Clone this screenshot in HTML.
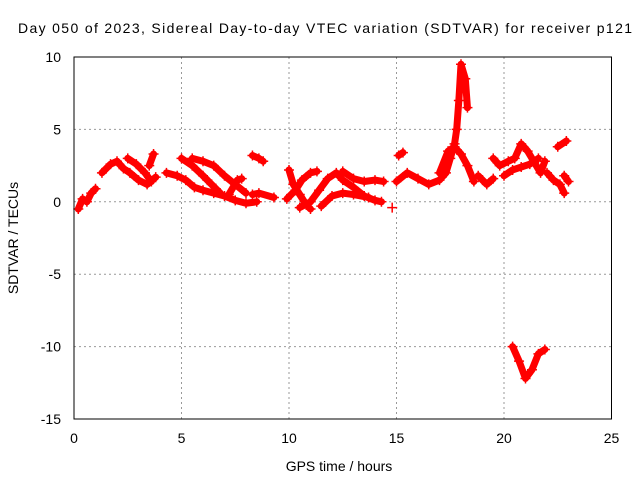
<!DOCTYPE html>
<html><head><meta charset="utf-8"><style>
body{margin:0;background:#fff}
svg{display:block;font-family:"Liberation Sans",sans-serif}
</style></head><body>
<svg id="c" width="640" height="480">
<text x="18" y="33" textLength="614" lengthAdjust="spacing" font-size="14">Day 050 of 2023, Sidereal Day-to-day VTEC variation (SDTVAR) for receiver p121</text>
<text x="339" y="471" text-anchor="middle" font-size="14">GPS time / hours</text>
<text transform="translate(18,238) rotate(-90)" text-anchor="middle" font-size="14">SDTVAR / TECUs</text>
<g id="grid"></g><g id="marks"></g>
<rect x="74" y="57" width="537.5" height="362" fill="none" stroke="#000" stroke-width="1"/>
</svg>
<script>
const xTicks=[0,5,10,15,20,25];
const yTicks=[10,5,0,-5,-10,-15];
const tracks=[
[[0.2,-0.5],[0.4,0.2],[0.6,0],[0.8,0.6],[1.0,0.9]],
[[1.3,2.0],[1.7,2.6],[2.0,2.8],[2.3,2.3],[2.6,2.0],[3.0,1.5],[3.4,1.2],[3.8,1.7]],
[[2.5,3.0],[2.9,2.6],[3.3,2.0],[3.6,1.4]],
[[3.7,3.3],[3.5,2.5]],
[[4.3,2.0],[4.8,1.8],[5.2,1.5],[5.6,1.0],[6.0,0.8],[6.5,0.6],[7.0,0.4],[7.5,0.1],[8.0,-0.1],[8.5,0]],
[[5.0,3.0],[5.5,2.5],[6.0,1.8],[6.4,1.2],[6.8,0.6]],
[[5.5,3.0],[6.0,2.8],[6.5,2.5],[7.0,1.8],[7.5,1.2],[8.0,0.6]],
[[7.2,0.5],[7.6,1.5],[7.8,1.6]],
[[8.3,3.2],[8.6,3.0],[8.8,2.8]],
[[8.3,0.5],[8.6,0.6],[9.3,0.3]],
[[10.0,2.2],[10.2,1.2],[10.5,0.5],[10.8,-0.2],[11.0,-0.5]],
[[9.9,0.2],[10.3,0.8],[10.6,1.5],[11.0,2.0],[11.3,2.1]],
[[10.5,-0.4],[11.0,0],[11.4,0.8],[11.8,1.6],[12.2,2.0],[12.5,1.5],[13.0,1.0],[13.5,0.4],[14.0,0.1],[14.3,0]],
[[11.5,-0.3],[12.0,0.4],[12.5,0.6],[13.0,0.5],[13.7,0.3]],
[[12.5,2.1],[13.0,1.6],[13.5,1.4],[14.0,1.5],[14.4,1.4]],
[[14.8,-0.4]],
[[15.1,3.2],[15.3,3.4]],
[[15.0,1.4],[15.5,2.0],[16.0,1.6],[16.5,1.2],[17.0,1.5],[17.3,2.0],[17.5,3.0],[17.7,4.0],[17.8,5.0],[17.9,7.0],[18.0,9.5],[18.2,8.5],[18.3,6.5]],
[[17.0,2.0],[17.4,3.5],[17.7,3.8],[18.0,3.3],[18.3,2.5],[18.6,1.4]],
[[18.8,1.8],[19.2,1.2],[19.5,1.6]],
[[19.5,3.0],[19.8,2.5],[20.2,2.8],[20.5,3.0],[20.8,4.0],[21.1,3.5],[21.5,2.5],[21.7,2.0],[21.9,2.8]],
[[20.0,1.8],[20.4,2.2],[20.8,2.4],[21.2,2.6],[21.6,3.0]],
[[22.0,2.0],[22.3,1.5],[22.6,1.2],[22.8,0.6]],
[[22.5,3.8],[22.9,4.2]],
[[22.8,1.8],[23.0,1.4]],
[[20.4,-10.0],[20.7,-11.0],[21.0,-12.2],[21.3,-11.6],[21.6,-10.5],[21.9,-10.2]]
];
const X=v=>74+v*21.5, Y=v=>57+(10-v)*14.48;
const NS='http://www.w3.org/2000/svg';
const grid=document.getElementById('grid'), marks=document.getElementById('marks');
function mk(t,a,p){const e=document.createElementNS(NS,t);for(const k in a)e.setAttribute(k,a[k]);p.appendChild(e);return e;}
xTicks.forEach(t=>{
 if(t>0&&t<25){const g=mk('line',{x1:X(t),x2:X(t),y1:57,y2:419,stroke:'#999','stroke-dasharray':'2,3'},grid);
 
 }
 const l=mk('text',{x:X(t),y:443,'text-anchor':'middle','font-size':14},grid);l.textContent=t;
 
 
});
yTicks.forEach(t=>{
 if(t<10&&t>-15){const g=mk('line',{x1:74,x2:611.5,y1:Y(t),y2:Y(t),stroke:'#999','stroke-dasharray':'2,3'},grid);
 
 }
 const l=mk('text',{x:61,y:Y(t)+5,'text-anchor':'end','font-size':14},grid);l.textContent=t;
 
 
});
tracks.forEach(tr=>{
 const pts=tr.map(p=>X(p[0])+','+Y(p[1])).join(' ');
 const pl=mk('polyline',{points:pts,fill:'none',stroke:'#f00','stroke-width':7,'stroke-linejoin':'round','stroke-linecap':'round'},marks);
 
 
 tr.forEach(p=>{
  const x=X(p[0]),y=Y(p[1]);
  const m=mk('path',{d:`M${x-5},${y}H${x+5}M${x},${y-5}V${y+5}`,stroke:'#f00','stroke-width':1.5},marks);
  
  
 });
});
</script>
</body></html>
